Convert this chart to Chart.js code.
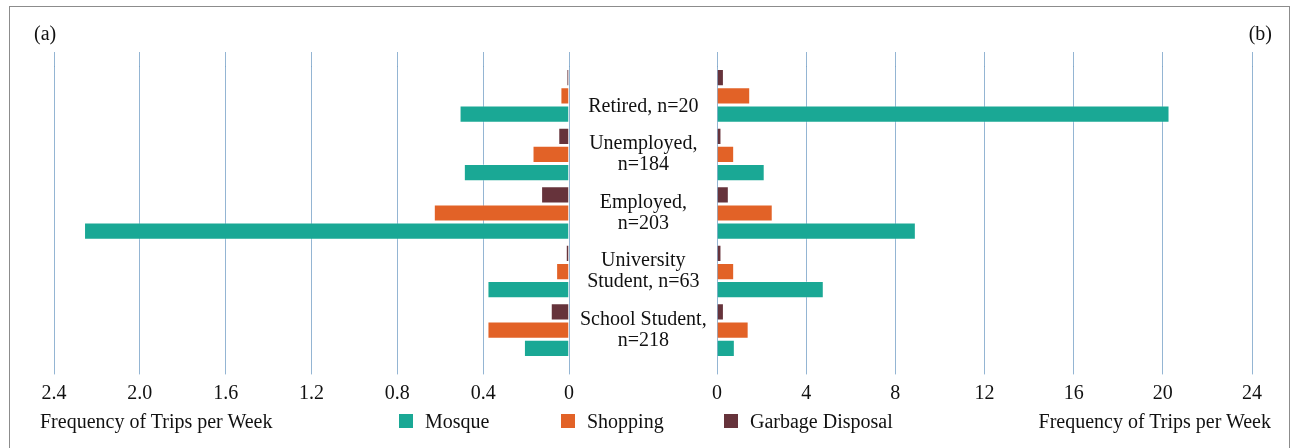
<!DOCTYPE html>
<html>
<head>
<meta charset="utf-8">
<script src="https://cdn.jsdelivr.net/npm/chart.js@4/dist/chart.umd.min.js"></script>
<style>
  html, body { margin: 0; padding: 0; background: #fff; }
  body { width: 1298px; height: 448px; position: relative; overflow: hidden;
         font-family: 'Liberation Serif', 'Times New Roman', serif; color: #111; }
  .frame { position: absolute; left: 9px; top: 6px; width: 1281px; height: 460px;
           border: 1px solid #8c8c8c; box-sizing: border-box; }
  canvas { position: absolute; top: 0; }
  #chartA { left: 0; }
  #chartB { left: 650px; }
  .txt { position: absolute; font-size: 20px; line-height: 24px; white-space: nowrap; }
  #legend .item { position: absolute; top: 409px; display: flex; align-items: center;
                  font-size: 20px; line-height: 24px; white-space: nowrap; }
  #legend .box { width: 14px; height: 14px; margin-right: 12px; }
</style>
</head>
<body>
<div class="frame"></div>
<canvas id="chartA" width="717" height="448"></canvas>
<canvas id="chartB" width="648" height="448"></canvas>
<div class="txt" style="left:34px; top:21px;">(a)</div>
<div class="txt" style="right:26px; top:21px;">(b)</div>
<div class="txt" style="left:40px; top:409px;">Frequency of Trips per Week</div>
<div class="txt" style="right:27px; top:409px;">Frequency of Trips per Week</div>
<div id="legend"></div>
<script>
// Occupation groups, top to bottom
const categories = [
  ['', 'Retired, n=20'],
  ['Unemployed,', 'n=184'],
  ['Employed,', 'n=203'],
  ['University', 'Student, n=63'],
  ['School Student,', 'n=218']
];

// (a) left panel, trips per week
const mosqueA   = [0.51, 0.49, 2.26, 0.38, 0.21];
const shoppingA = [0.04, 0.17, 0.63, 0.06, 0.38];
const garbageA  = [0.012, 0.05, 0.13, 0.015, 0.085];

// (b) right panel, trips per week
const mosqueB   = [20.3, 2.14, 8.92, 4.79, 0.8];
const shoppingB = [1.49, 0.77, 2.5, 0.77, 1.42];
const garbageB  = [0.31, 0.2, 0.53, 0.2, 0.31];

const seriesNames = ['Mosque', 'Shopping', 'Garbage Disposal'];
const colors = ['#1aa895', '#e26227', '#66333b'];

const FONT = { family: "'Liberation Serif', 'Times New Roman', serif", size: 20 };
const GRID = 'rgba(60, 120, 175, 0.55)';

Chart.defaults.font.family = FONT.family;
Chart.defaults.color = '#111';

// bars are listed garbage first so they stack top-down like the legend reversed
function datasets(mosque, shopping, garbage) {
  return [
    { label: seriesNames[2], data: garbage, backgroundColor: colors[2] },
    { label: seriesNames[1], data: shopping, backgroundColor: colors[1] },
    { label: seriesNames[0], data: mosque, backgroundColor: colors[0] }
  ].map(d => Object.assign(d, {
    borderColor: 'rgba(255,255,255,0.3)',
    borderWidth: 1,
    categoryPercentage: 0.93,
    barPercentage: 0.95
  }));
}

function xAxes(max, step, reverse, fmt) {
  return {
    x: {
      position: 'bottom', min: 0, max: max, reverse: reverse, z: 1,
      border: { display: false },
      grid: { color: GRID, lineWidth: 1, tickLength: 15 },
      ticks: { stepSize: step, padding: 7, font: FONT, color: '#111', callback: fmt }
    },
    xTop: {
      position: 'top', min: 0, max: max, reverse: reverse, z: 1,
      border: { display: false },
      grid: { color: GRID, lineWidth: 1, tickLength: 14.6, drawOnChartArea: false },
      ticks: { stepSize: step, display: false }
    }
  };
}

const common = {
  indexAxis: 'y',
  responsive: false,
  animation: false,
  devicePixelRatio: 1,
  plugins: { legend: { display: false }, tooltip: { enabled: false } }
};

const chartA = new Chart(document.getElementById('chartA'), {
  type: 'bar',
  data: { labels: categories, datasets: datasets(mosqueA, shoppingA, garbageA) },
  options: Object.assign({}, common, {
    layout: { padding: { left: 54, right: 0, top: 52, bottom: 35.6 } },
    scales: Object.assign(xAxes(2.4, 0.4, true, v => v === 0 ? '0' : v.toFixed(1)), {
      y: {
        position: 'right',
        border: { display: false },
        grid: { display: false, drawTicks: false },
        afterFit: s => { s.width = 148; },
        ticks: {
          crossAlign: 'center', padding: 11, color: '#111',
          font: Object.assign({}, FONT, { lineHeight: 1.05 })
        }
      }
    })
  })
});

const chartB = new Chart(document.getElementById('chartB'), {
  type: 'bar',
  data: { labels: categories, datasets: datasets(mosqueB, shoppingB, garbageB) },
  options: Object.assign({}, common, {
    layout: { padding: { left: 67, right: 46, top: 52, bottom: 35.6 } },
    scales: Object.assign(xAxes(24, 4, false, v => String(v)), {
      y: { display: false }
    })
  })
});

// legend in Mosque, Shopping, Garbage Disposal order
const legendLeft = [399, 561, 724];
const legend = document.getElementById('legend');
seriesNames.forEach((name, i) => {
  const item = document.createElement('div');
  item.className = 'item';
  item.style.left = legendLeft[i] + 'px';
  item.innerHTML = '<span class="box" style="background:' + colors[i] + '"></span>' + name;
  legend.appendChild(item);
});
</script>
</body>
</html>
